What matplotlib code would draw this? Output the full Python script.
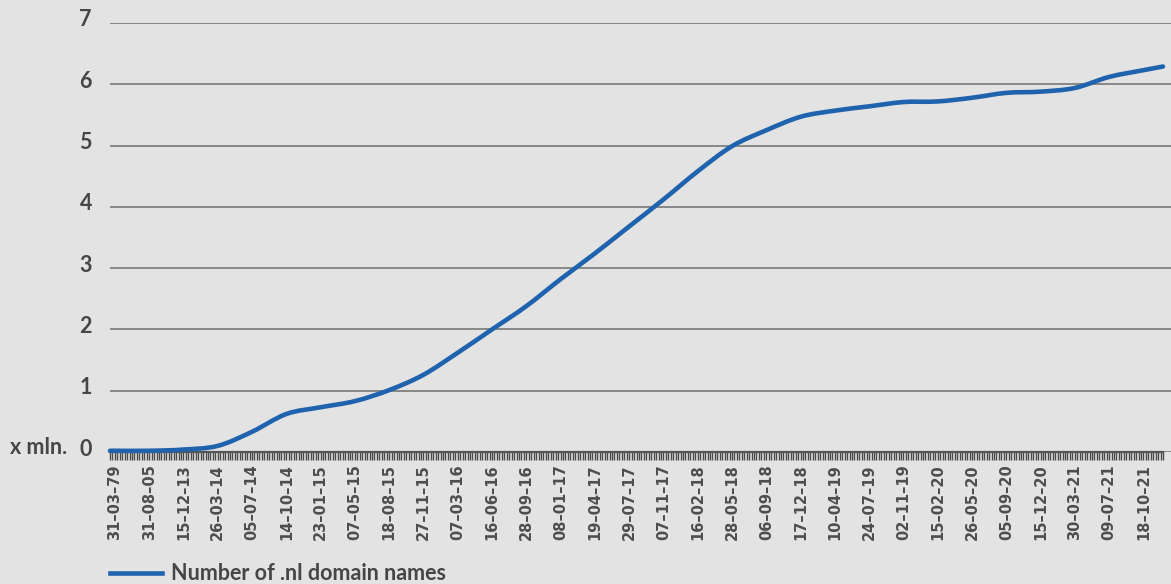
import numpy as np
import matplotlib
matplotlib.use("Agg")
import matplotlib.pyplot as plt
from matplotlib.path import Path
from matplotlib.patches import PathPatch
from matplotlib.lines import Line2D
from matplotlib.ticker import FixedLocator
import matplotlib.transforms as mtransforms

# Labelled dates on the category axis (one label every 14 weekly categories)
date_labels = [
    "31–03–79", "31–08–05", "15–12–13", "26–03–14", "05–07–14", "14–10–14",
    "23–01–15", "07–05–15", "18–08–15", "27–11–15", "07–03–16", "16–06–16",
    "28–09–16", "08–01–17", "19–04–17", "29–07–17", "07–11–17", "16–02–18",
    "28–05–18", "06–09–18", "17–12–18", "10–04–19", "24–07–19", "02–11–19",
    "15–02–20", "26–05–20", "05–09–20", "15–12–20", "30–03–21", "09–07–21",
    "18–10–21",
]
# Number of .nl domain names (millions) at the labelled dates
domains_mln = [
    0.02, 0.02, 0.04, 0.10, 0.33, 0.62, 0.73, 0.83, 1.01, 1.26, 1.62,
    2.00, 2.38, 2.82, 3.24, 3.68, 4.12, 4.58, 4.99, 5.25, 5.47, 5.57,
    5.64, 5.71, 5.72, 5.78, 5.86, 5.88, 5.94, 6.12, 6.23,
]
# First and latest weekly values (unlabelled categories)
first_value = 0.02
latest_value = 6.29

n_weeks = 431
label_weeks = [2 + 14 * k for k in range(len(date_labels))]
x = np.array([0] + label_weeks + [n_weeks - 1], dtype=float)
y = np.array([first_value] + domains_mln + [latest_value], dtype=float)

BG = "#e3e3e3"
BLUE = "#1f63ae"
TEXT = "#464646"
FONT = "Lato"

fig = plt.figure(figsize=(11.71, 5.84), dpi=100, facecolor=BG)
W, H = 1171, 584
ax = fig.add_axes([110 / W, 1 - 452 / H, (W - 110) / W, (452 - 23) / H])
ax.set_facecolor(BG)

# Smooth curve through the points (Catmull-Rom as cubic Bezier segments)
pts = np.column_stack([x, y])
verts = [pts[0]]
codes = [Path.MOVETO]
n = len(pts)
for i in range(n - 1):
    p0 = pts[max(i - 1, 0)]
    p1 = pts[i]
    p2 = pts[i + 1]
    p3 = pts[min(i + 2, n - 1)]
    c1 = p1 + (p2 - p0) / 6.0
    c2 = p2 - (p3 - p1) / 6.0
    verts += [c1, c2, p2]
    codes += [Path.CURVE4] * 3
curve = PathPatch(Path(verts, codes), facecolor="none", edgecolor=BLUE,
                  lw=3.3, capstyle="round", joinstyle="round",
                  clip_on=False, zorder=5)
ax.add_patch(curve)

ax.set_xlim(0, (W - 110) / ((1163 - 110) / (n_weeks - 1)))
ax.set_ylim(0, 7)

# Horizontal gridlines
ax.set_yticks(range(0, 8))
ax.yaxis.grid(True, color="#6e6e6e", lw=1.1)
ax.set_axisbelow(True)
ax.tick_params(axis="y", length=0, pad=13, labelsize=15.5, labelcolor=TEXT)
up = mtransforms.ScaledTranslation(0, 5 / 100, fig.dpi_scale_trans)
for lab in ax.get_yticklabels():
    lab.set_fontweight("bold")
    lab.set_family(FONT)
    lab.set_transform(lab.get_transform() + up)

for s in ("left", "right", "top"):
    ax.spines[s].set_visible(False)
ax.spines["bottom"].set_color("#555555")
ax.spines["bottom"].set_linewidth(1.6)
ax.spines["bottom"].set_bounds(0, n_weeks - 1)

# Category axis: a tick for every week, a label every 14 weeks
ax.xaxis.set_major_locator(FixedLocator(label_weeks))
ax.xaxis.set_minor_locator(FixedLocator(np.arange(n_weeks)))
ax.set_xticklabels(date_labels, rotation=90, fontsize=10.5, color="#4e4e4e",
                   family="DejaVu Sans", fontweight="bold")
ax.tick_params(axis="x", which="both", direction="out", length=6,
               width=1.0, color="#4a4a4a", pad=3)

# Unit label next to the zero tick
ax.text(10 / W, 0, "x mln.", transform=mtransforms.blended_transform_factory(
            fig.transFigure, ax.transData) + up,
        ha="left", va="center", fontsize=15.5, fontweight="bold",
        family=FONT, color=TEXT)

# Legend
handle = Line2D([], [], color=BLUE, lw=3.3)
fig.legend(handles=[handle], labels=["Number of .nl domain names"],
           loc="center left", bbox_to_anchor=(110 / W, 1 - 574 / H),
           frameon=False, borderpad=0, borderaxespad=0,
           handlelength=2.4, handletextpad=0.45,
           prop={"family": FONT, "weight": "bold", "size": 15.5})
for t in fig.legends[0].get_texts():
    t.set_color(TEXT)

fig.savefig("out.png", dpi=100, facecolor=BG)
